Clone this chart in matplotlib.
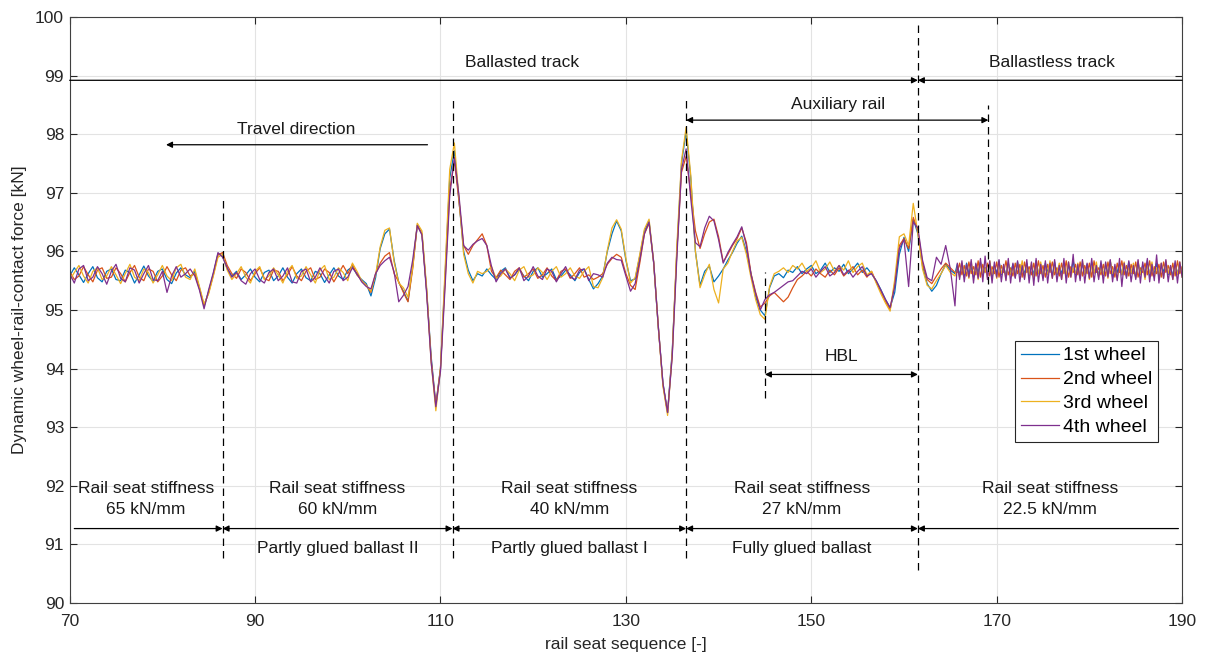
import numpy as np
import matplotlib
matplotlib.use("Agg")
import matplotlib.pyplot as plt

plt.rcParams["font.family"] = ["Liberation Sans", "DejaVu Sans"]

# rail seat positions: half-seat spacing on the ballasted part, quarter-seat on the slab
seat_a = np.arange(70, 166, 0.5)
seat_b = np.arange(165.75, 190.01, 0.25)
seat = np.concatenate([seat_a, seat_b])

# dynamic wheel-rail contact force [kN]
wheel1_a = [
    95.58, 95.72, 95.60, 95.47, 95.62, 95.74, 95.55, 95.48, 95.66, 95.70,  # 70
    95.52, 95.50, 95.68, 95.64, 95.46, 95.60, 95.75, 95.58, 95.49, 95.66,  # 75
    95.70, 95.52, 95.45, 95.63, 95.72, 95.60, 95.55, 95.66, 95.38, 95.06,  # 80
    95.32, 95.62, 95.96, 95.92, 95.70, 95.58, 95.66, 95.52, 95.60, 95.70,  # 85
    95.56, 95.48, 95.64, 95.68, 95.50, 95.58, 95.72, 95.56, 95.46, 95.62,  # 90
    95.70, 95.55, 95.50, 95.66, 95.62, 95.47, 95.60, 95.72, 95.58, 95.52,  # 95
    95.68, 95.74, 95.60, 95.52, 95.45, 95.24, 95.55, 96.05, 96.30, 96.38,  # 100
    95.85, 95.47, 95.32, 95.15, 95.75, 96.45, 96.30, 95.35, 94.20, 93.38,  # 105
    94.00, 95.60, 97.25, 97.72, 96.85, 96.00, 95.68, 95.50, 95.62, 95.58,  # 110
    95.70, 95.60, 95.52, 95.66, 95.72, 95.55, 95.60, 95.70, 95.58, 95.50,  # 115
    95.66, 95.72, 95.56, 95.62, 95.70, 95.52, 95.58, 95.68, 95.60, 95.50,  # 120
    95.64, 95.70, 95.52, 95.36, 95.45, 95.58, 96.00, 96.30, 96.52, 96.35,  # 125
    95.85, 95.50, 95.53, 95.92, 96.35, 96.52, 95.80, 94.70, 93.75, 93.25,  # 130
    94.30, 96.00, 97.50, 98.05, 97.25, 96.00, 95.42, 95.66, 95.75, 95.48,  # 135
    95.58, 95.70, 95.85, 95.98, 96.14, 96.26, 96.00, 95.62, 95.22, 95.00,  # 140
    94.90, 95.38, 95.58, 95.62, 95.55, 95.68, 95.64, 95.74, 95.62, 95.70,  # 145
    95.76, 95.62, 95.68, 95.80, 95.64, 95.72, 95.66, 95.78, 95.62, 95.70,  # 150
    95.80, 95.64, 95.72, 95.62, 95.50, 95.35, 95.18, 95.04, 95.30, 95.95,  # 155
    96.24, 96.00, 96.55, 96.30, 95.75, 95.45, 95.32, 95.42, 95.62, 95.78, 95.68, 95.62,
]
wheel1_b = [
    95.78, 95.60, 95.76, 95.58, 95.80, 95.62, 95.74, 95.56, 95.78, 95.64,
    95.82, 95.58, 95.72, 95.60, 95.80, 95.56, 95.76, 95.62, 95.84, 95.60,
    95.74, 95.58, 95.80, 95.64, 95.78, 95.56, 95.82, 95.60, 95.74, 95.62,
    95.80, 95.58, 95.76, 95.60, 95.84, 95.62, 95.72, 95.56, 95.80, 95.64,
    95.78, 95.58, 95.82, 95.60, 95.74, 95.62, 95.80, 95.56, 95.76, 95.64,
    95.84, 95.60, 95.72, 95.58, 95.80, 95.62, 95.78, 95.56, 95.82, 95.64,
    95.74, 95.60, 95.80, 95.58, 95.76, 95.62, 95.84, 95.56, 95.72, 95.64,
    95.80, 95.60, 95.78, 95.58, 95.82, 95.62, 95.74, 95.56, 95.80, 95.64,
    95.76, 95.60, 95.84, 95.58, 95.72, 95.62, 95.80, 95.56, 95.78, 95.64,
    95.82, 95.60, 95.74, 95.58, 95.80, 95.62, 95.76, 95.60,
]

wheel2_a = [
    95.66, 95.52, 95.58, 95.74, 95.60, 95.48, 95.68, 95.72, 95.54, 95.56,  # 70
    95.72, 95.62, 95.48, 95.64, 95.76, 95.56, 95.50, 95.70, 95.66, 95.48,  # 75
    95.58, 95.74, 95.60, 95.50, 95.68, 95.72, 95.58, 95.62, 95.36, 95.08,  # 80
    95.30, 95.60, 95.94, 95.98, 95.76, 95.62, 95.54, 95.70, 95.64, 95.50,  # 85
    95.62, 95.72, 95.54, 95.50, 95.68, 95.66, 95.50, 95.60, 95.74, 95.58,  # 90
    95.50, 95.66, 95.72, 95.52, 95.56, 95.70, 95.64, 95.48, 95.62, 95.76,  # 95
    95.62, 95.78, 95.60, 95.50, 95.42, 95.30, 95.62, 95.80, 95.92, 95.98,  # 100
    95.62, 95.48, 95.30, 95.14, 95.70, 96.45, 96.30, 95.35, 94.15, 93.38,  # 105
    94.00, 95.50, 97.05, 97.55, 96.85, 96.10, 95.95, 96.10, 96.20, 96.30,  # 110
    96.10, 95.66, 95.55, 95.68, 95.60, 95.52, 95.66, 95.72, 95.56, 95.62,  # 115
    95.70, 95.54, 95.60, 95.72, 95.58, 95.50, 95.66, 95.70, 95.54, 95.62,  # 120
    95.72, 95.56, 95.60, 95.52, 95.56, 95.62, 95.78, 95.88, 95.95, 95.90,  # 125
    95.62, 95.42, 95.35, 95.80, 96.30, 96.48, 95.80, 94.70, 93.72, 93.25,  # 130
    94.25, 96.00, 97.35, 97.62, 97.00, 96.35, 96.05, 96.30, 96.50, 96.55,  # 135
    96.25, 95.82, 95.95, 96.10, 96.22, 96.40, 96.15, 95.62, 95.30, 95.05,  # 140
    95.12, 95.24, 95.30, 95.22, 95.14, 95.22, 95.38, 95.52, 95.58, 95.66,  # 145
    95.58, 95.70, 95.62, 95.56, 95.68, 95.60, 95.72, 95.58, 95.66, 95.74,  # 150
    95.60, 95.68, 95.56, 95.66, 95.48, 95.32, 95.15, 95.00, 95.45, 96.10,  # 155
    96.22, 96.05, 96.58, 96.35, 95.80, 95.52, 95.45, 95.58, 95.70, 95.80, 95.72, 95.64,
]
wheel2_b = [
    95.64, 95.80, 95.60, 95.76, 95.58, 95.82, 95.62, 95.74, 95.60, 95.84,
    95.56, 95.78, 95.64, 95.80, 95.58, 95.74, 95.62, 95.82, 95.56, 95.76,
    95.64, 95.84, 95.60, 95.72, 95.58, 95.80, 95.62, 95.78, 95.56, 95.82,
    95.64, 95.74, 95.60, 95.80, 95.58, 95.84, 95.62, 95.76, 95.56, 95.78,
    95.64, 95.82, 95.60, 95.72, 95.58, 95.80, 95.62, 95.84, 95.56, 95.74,
    95.64, 95.78, 95.60, 95.82, 95.58, 95.76, 95.62, 95.80, 95.56, 95.84,
    95.64, 95.72, 95.60, 95.78, 95.58, 95.82, 95.62, 95.74, 95.56, 95.80,
    95.64, 95.84, 95.60, 95.76, 95.58, 95.78, 95.62, 95.82, 95.56, 95.72,
    95.64, 95.80, 95.60, 95.84, 95.58, 95.74, 95.62, 95.78, 95.56, 95.82,
    95.64, 95.76, 95.60, 95.80, 95.58, 95.84, 95.62, 95.74,
]

wheel3_a = [
    95.50, 95.64, 95.76, 95.58, 95.46, 95.66, 95.72, 95.52, 95.58, 95.74,  # 70
    95.60, 95.45, 95.62, 95.78, 95.56, 95.50, 95.70, 95.64, 95.46, 95.60,  # 75
    95.76, 95.58, 95.50, 95.72, 95.78, 95.56, 95.52, 95.70, 95.40, 95.10,  # 80
    95.28, 95.58, 95.90, 95.95, 95.68, 95.52, 95.62, 95.74, 95.56, 95.46,  # 85
    95.66, 95.74, 95.52, 95.58, 95.72, 95.60, 95.46, 95.66, 95.76, 95.54,  # 90
    95.58, 95.74, 95.60, 95.46, 95.68, 95.76, 95.52, 95.56, 95.72, 95.64,  # 95
    95.50, 95.80, 95.66, 95.50, 95.42, 95.32, 95.60, 96.08, 96.36, 96.40,  # 100
    95.82, 95.46, 95.38, 95.22, 95.72, 96.48, 96.35, 95.40, 94.10, 93.28,  # 105
    94.00, 95.70, 97.40, 97.85, 96.90, 95.95, 95.62, 95.46, 95.66, 95.62,  # 110
    95.66, 95.74, 95.54, 95.58, 95.70, 95.62, 95.50, 95.68, 95.74, 95.56,  # 115
    95.60, 95.72, 95.64, 95.52, 95.66, 95.74, 95.56, 95.62, 95.72, 95.58,  # 120
    95.54, 95.66, 95.74, 95.40, 95.38, 95.55, 96.02, 96.40, 96.54, 96.38,  # 125
    95.88, 95.46, 95.55, 95.95, 96.38, 96.55, 95.82, 94.72, 93.70, 93.20,  # 130
    94.25, 96.10, 97.55, 98.12, 97.30, 96.00, 95.38, 95.60, 95.78, 95.35,  # 135
    95.12, 95.70, 95.80, 96.00, 96.18, 96.24, 95.95, 95.55, 95.18, 94.92,  # 140
    94.84, 95.40, 95.62, 95.66, 95.72, 95.64, 95.76, 95.70, 95.80, 95.66,  # 145
    95.72, 95.84, 95.64, 95.70, 95.82, 95.66, 95.76, 95.68, 95.84, 95.64,  # 150
    95.74, 95.80, 95.60, 95.66, 95.46, 95.28, 95.12, 94.98, 95.52, 96.25,  # 155
    96.30, 96.10, 96.82, 96.30, 95.70, 95.42, 95.36, 95.50, 95.62, 95.76, 95.64, 95.58,
]
wheel3_b = [
    95.72, 95.56, 95.80, 95.62, 95.74, 95.54, 95.82, 95.60, 95.76, 95.52,
    95.80, 95.62, 95.72, 95.56, 95.84, 95.60, 95.74, 95.54, 95.80, 95.62,
    95.76, 95.52, 95.82, 95.60, 95.72, 95.56, 95.80, 95.62, 95.84, 95.54,
    95.74, 95.60, 95.80, 95.52, 95.76, 95.62, 95.82, 95.56, 95.72, 95.60,
    95.84, 95.54, 95.74, 95.62, 95.80, 95.52, 95.76, 95.60, 95.82, 95.56,
    95.72, 95.62, 95.80, 95.54, 95.84, 95.60, 95.74, 95.52, 95.76, 95.62,
    95.82, 95.56, 95.72, 95.60, 95.80, 95.54, 95.84, 95.62, 95.74, 95.52,
    95.76, 95.60, 95.82, 95.56, 95.72, 95.62, 95.80, 95.54, 95.84, 95.60,
    95.74, 95.52, 95.76, 95.62, 95.82, 95.56, 95.72, 95.60, 95.80, 95.54,
    95.84, 95.62, 95.74, 95.52, 95.76, 95.60, 95.82, 95.56,
]

wheel4_a = [
    95.62, 95.46, 95.70, 95.76, 95.50, 95.56, 95.74, 95.62, 95.44, 95.66,  # 70
    95.78, 95.54, 95.48, 95.72, 95.68, 95.46, 95.62, 95.76, 95.52, 95.50,  # 75
    95.66, 95.30, 95.58, 95.74, 95.56, 95.62, 95.70, 95.58, 95.34, 95.02,  # 80
    95.35, 95.64, 95.98, 95.90, 95.72, 95.56, 95.64, 95.50, 95.44, 95.62,  # 85
    95.70, 95.52, 95.46, 95.64, 95.70, 95.50, 95.58, 95.72, 95.48, 95.46,  # 90
    95.66, 95.70, 95.48, 95.56, 95.72, 95.58, 95.46, 95.66, 95.70, 95.50,  # 95
    95.56, 95.72, 95.62, 95.48, 95.40, 95.36, 95.62, 95.76, 95.84, 95.90,  # 100
    95.65, 95.14, 95.25, 95.40, 95.85, 96.44, 96.28, 95.30, 94.10, 93.35,  # 105
    93.95, 95.40, 96.95, 97.60, 96.95, 96.10, 96.02, 96.12, 96.18, 96.22,  # 110
    96.10, 95.75, 95.48, 95.62, 95.70, 95.54, 95.60, 95.72, 95.50, 95.58,  # 115
    95.74, 95.58, 95.52, 95.70, 95.66, 95.48, 95.62, 95.74, 95.56, 95.52,  # 120
    95.68, 95.70, 95.50, 95.62, 95.60, 95.56, 95.80, 95.90, 95.86, 95.85,  # 125
    95.58, 95.32, 95.45, 95.85, 96.30, 96.50, 95.82, 94.72, 93.75, 93.25,  # 130
    94.20, 95.90, 97.40, 97.75, 96.90, 96.15, 96.08, 96.40, 96.60, 96.52,  # 135
    96.20, 95.80, 95.98, 96.12, 96.25, 96.42, 96.10, 95.60, 95.28, 95.00,  # 140
    95.18, 95.26, 95.30, 95.36, 95.42, 95.48, 95.50, 95.58, 95.66, 95.62,  # 145
    95.70, 95.56, 95.66, 95.74, 95.58, 95.64, 95.76, 95.60, 95.68, 95.56,  # 150
    95.66, 95.74, 95.58, 95.62, 95.50, 95.34, 95.18, 95.04, 95.40, 96.05,  # 155
    96.20, 95.40, 96.50, 96.40, 95.85, 95.55, 95.50, 95.90, 95.78, 96.10, 95.70, 95.07,
]
wheel4_b = [
    95.80, 95.52, 95.84, 95.48, 95.78, 95.56, 95.86, 95.46, 95.80, 95.54,
    95.88, 95.48, 95.92, 95.52, 95.84, 95.46, 95.82, 95.56, 95.86, 95.48,
    95.78, 95.50, 95.88, 95.46, 95.80, 95.54, 95.84, 95.48, 95.76, 95.52,
    95.86, 95.46, 95.82, 95.42, 95.88, 95.48, 95.78, 95.50, 95.84, 95.46,
    95.80, 95.54, 95.86, 95.48, 95.76, 95.52, 95.88, 95.46, 95.82, 95.56,
    95.95, 95.48, 95.78, 95.50, 95.86, 95.46, 95.80, 95.54, 95.88, 95.48,
    95.76, 95.52, 95.84, 95.46, 95.82, 95.56, 95.86, 95.48, 95.78, 95.50,
    95.88, 95.40, 95.80, 95.54, 95.84, 95.48, 95.76, 95.52, 95.86, 95.46,
    95.82, 95.56, 95.88, 95.48, 95.78, 95.50, 95.94, 95.46, 95.80, 95.54,
    95.86, 95.48, 95.76, 95.52, 95.84, 95.46, 95.82, 95.56,
]

wheels = [wheel1_a + wheel1_b, wheel2_a + wheel2_b, wheel3_a + wheel3_b, wheel4_a + wheel4_b]
wheel_names = ["1st wheel", "2nd wheel", "3rd wheel", "4th wheel"]
wheel_colors = ["#0072BD", "#D95319", "#EDB120", "#7E2F8E"]

# track sections along the bottom
zone_edges = [70, 86.5, 111.3, 136.5, 161.5, 190]
zone_stiffness = ["65 kN/mm", "60 kN/mm", "40 kN/mm", "27 kN/mm", "22.5 kN/mm"]
zone_ballast = ["", "Partly glued ballast II", "Partly glued ballast I", "Fully glued ballast", ""]

# dashed markers: position, lower end, upper end
markers = [
    (86.5, 90.77, 96.93),
    (111.3, 90.77, 98.58),
    (136.5, 90.77, 98.58),
    (161.5, 90.56, 99.90),
    (145.0, 93.50, 95.65),
    (169.1, 95.02, 98.50),
]

fig = plt.figure(figsize=(12.05, 6.59), dpi=100)
ax = fig.add_axes([0.0578, 0.085, 0.9232, 0.8892])

for y, name, c in zip(wheels, wheel_names, wheel_colors):
    ax.plot(seat, y, color=c, lw=0.9, label=name)

for xm, y0, y1 in markers:
    ax.plot([xm, xm], [y0, y1], color="black", lw=0.9, ls=(0, (6, 4)))


def arrow(x0, x1, y, style):
    ax.annotate("", xy=(x1, y), xytext=(x0, y),
                arrowprops=dict(arrowstyle=style, color="black", lw=0.9,
                                shrinkA=0, shrinkB=0, mutation_scale=9))


txt = dict(ha="center", va="center", fontsize=12.5, color="#1a1a1a")

# top annotations
arrow(70, 161.5, 98.92, "-|>")
arrow(190, 161.5, 98.92, "-|>")
ax.text(118.8, 99.22, "Ballasted track", **txt)
ax.text(176.0, 99.22, "Ballastless track", **txt)

arrow(108.6, 80.4, 97.82, "-|>")
ax.text(94.4, 98.08, "Travel direction", **txt)

arrow(136.5, 169.1, 98.24, "<|-|>")
ax.text(152.9, 98.5, "Auxiliary rail", **txt)

arrow(145.0, 161.5, 93.9, "<|-|>")
ax.text(153.3, 94.2, "HBL", **txt)

# bottom sections
for i in range(len(zone_stiffness)):
    a, b = zone_edges[i], zone_edges[i + 1]
    xc = (a + b) / 2
    if i == 0:
        arrow(70.5, b, 91.27, "-|>")
    elif i == len(zone_stiffness) - 1:
        arrow(189.6, a, 91.27, "-|>")
    else:
        arrow(a, b, 91.27, "<|-|>")
    ax.text(xc, 91.95, "Rail seat stiffness", **txt)
    ax.text(xc, 91.59, zone_stiffness[i], **txt)
    if zone_ballast[i]:
        ax.text(xc, 90.93, zone_ballast[i], **txt)

ax.set_xlim(70, 190)
ax.set_ylim(90, 100)
ax.set_xticks(np.arange(70, 191, 20))
ax.set_yticks(np.arange(90, 101, 1))
ax.grid(True, color="#e3e3e3", lw=0.8)
ax.set_axisbelow(True)
ax.tick_params(direction="in", length=5, width=0.8, labelsize=12.5,
               top=True, right=True, colors="#262626")
ax.tick_params(axis="x", pad=8)
ax.tick_params(axis="y", pad=4)
for s in ax.spines.values():
    s.set_color("#404040")
    s.set_linewidth(0.8)

ax.set_xlabel("rail seat sequence [-]", fontsize=12.5, color="#262626", labelpad=6)
ax.set_ylabel("Dynamic wheel-rail-contact force [kN]", fontsize=12.5, color="#262626", labelpad=6)

leg = ax.legend(loc="upper right", bbox_to_anchor=(0.978, 0.447), fontsize=14,
                frameon=True, fancybox=False, edgecolor="#262626", framealpha=1,
                handlelength=1.95, handletextpad=0.2, borderpad=0.3, labelspacing=0.32,
                borderaxespad=0)
leg.get_frame().set_linewidth(0.8)

fig.savefig("out.png", dpi=100)
